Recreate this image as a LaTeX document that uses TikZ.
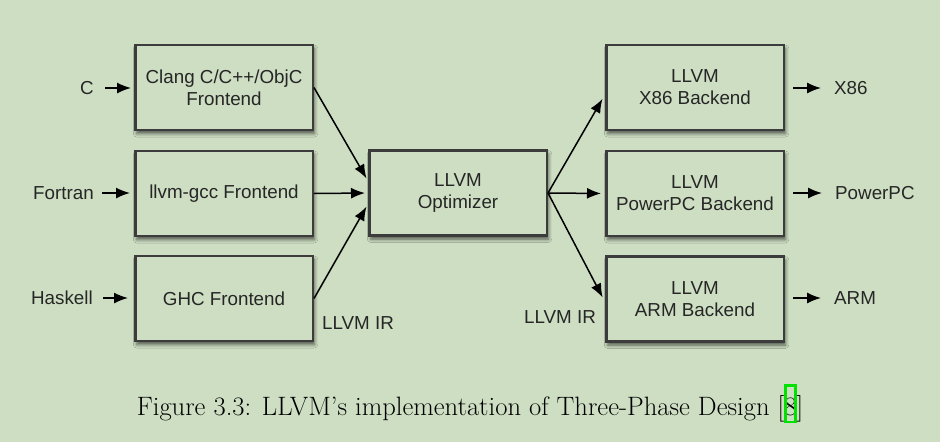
\documentclass[tikz,border=0pt]{standalone}
\usepackage{fontspec}
\newfontfamily\lsans{Liberation Sans}
\usetikzlibrary{arrows.meta,shadows.blur}
\definecolor{bgc}{RGB}{206,222,195}
\definecolor{edge}{RGB}{60,60,60}
\definecolor{lnk}{RGB}{0,225,0}
\newcommand\lnkbox[1]{{\setlength\fboxrule{2.5pt}\setlength\fboxsep{-2.5pt}\color{lnk}\fbox{\color{black}\rule[-8pt]{0pt}{39pt}#1}}}
\begin{document}
\begin{tikzpicture}[x=1pt,y=-1pt,
  blk/.style={draw=edge, line width=2.5pt, fill=bgc, minimum width=177.5pt, minimum height=85pt,
    inner sep=0pt, align=center, font=\fontsize{18.8}{22}\selectfont\lsans, text=black!85,
    blur shadow={shadow xshift=1.5pt, shadow yshift=-3.5pt, shadow blur radius=3.5pt, shadow opacity=60}},
  lbl/.style={inner sep=0pt, font=\fontsize{18.8}{22}\selectfont\lsans, text=black!85},
  arr/.style={-{Latex[length=14pt,width=11pt]}, line width=1.5pt, black}]
\fill[bgc] (0,0) rectangle (940,442);
\useasboundingbox (0,0) rectangle (940,442);
% boxes
\node[blk] (f1) at (224,87.5) {Clang C/C++/ObjC\\Frontend};
\node[blk] (f2) at (224,193.5) {llvm-gcc Frontend};
\node[blk] (f3) at (224,298.5) {GHC Frontend};
\node[blk] (opt) at (458,193) {LLVM\\Optimizer};
\node[blk] (b1) at (695,87.5) {LLVM\\X86 Backend};
\node[blk] (b2) at (695,193.5) {LLVM\\PowerPC Backend};
\node[blk] (b3) at (695,299) {LLVM\\ARM Backend};
% input labels
\node[lbl, anchor=east] (ic) at (94,88) {C};
\node[lbl, anchor=east] (ifo) at (94,193) {Fortran};
\node[lbl, anchor=east] (iha) at (93,298) {Haskell};
% output labels
\node[lbl, anchor=west] (ox) at (834,88) {X86};
\node[lbl, anchor=west] (op) at (835,193) {PowerPC};
\node[lbl, anchor=west] (oa) at (834,298) {ARM};
% IR labels
\node[lbl] (ir1) at (358,323) {LLVM IR};
\node[lbl] (ir2) at (560,317) {LLVM IR};
% input arrows
\draw[arr, shorten <=11pt, shorten >=3pt] (ic.east) -- (ic.east -| f1.west);
\draw[arr, shorten <=8pt, shorten >=4pt] (ifo.east) -- (ifo.east -| f2.west);
\draw[arr, shorten <=10pt, shorten >=6pt] (iha.east) -- (iha.east -| f3.west);
% frontends to optimizer
\draw[arr, shorten >=3pt] (f1.east) -- ([yshift=12pt]opt.west);
\draw[arr, shorten >=3pt] (f2.east) -- (opt.west);
\draw[arr, shorten >=3pt] (f3.east) -- ([yshift=-11pt]opt.west);
% optimizer to backends
\draw[arr, shorten >=5pt] (opt.east) -- ([yshift=-7pt]b1.west);
\draw[arr, shorten >=4pt] (opt.east) -- (b2.west);
\draw[arr, shorten >=5pt] (opt.east) -- ([yshift=-3pt]b3.west);
% output arrows
\draw[arr, shorten <=8pt, shorten >=13pt] (ox.west -| b1.east) -- (ox.west);
\draw[arr, shorten <=8pt, shorten >=13pt] (op.west -| b2.east) -- (op.west);
\draw[arr, shorten <=8pt, shorten >=13pt] (oa.west -| b3.east) -- (oa.west);
% caption
\node[anchor=base, inner sep=0pt, font=\fontsize{26.6}{32}\selectfont] (cap) at (470,415)
  {Figure 3.3: LLVM’s implementation of Three-Phase Design [\lnkbox{8}]};
\end{tikzpicture}
\end{document}
